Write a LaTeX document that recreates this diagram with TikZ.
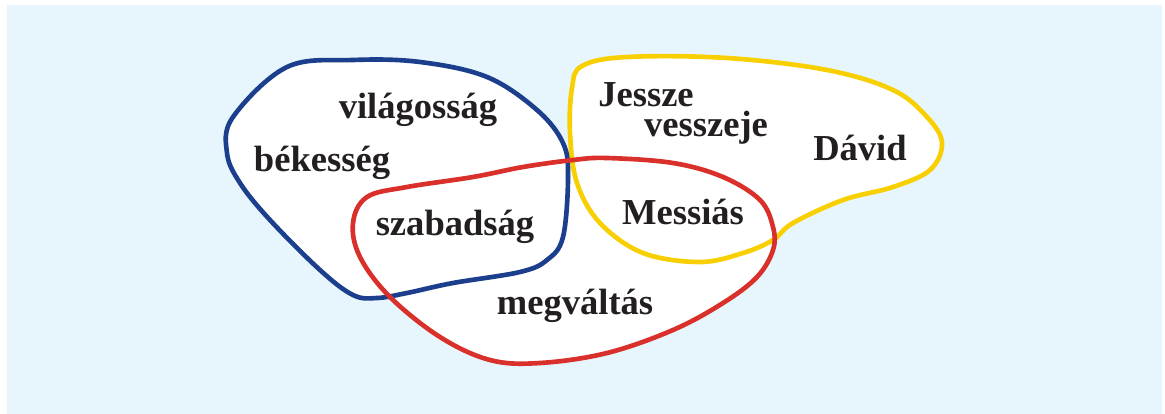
\documentclass[tikz,border=0pt]{standalone}
\usepackage{fontspec}
\setmainfont{Liberation Serif}
\usepackage{tikz}

\definecolor{bgblue}{HTML}{E7F6FD}
\definecolor{setblue}{HTML}{1B3F8C}
\definecolor{setred}{HTML}{D9302B}
\definecolor{setyellow}{HTML}{F8CF00}
\definecolor{wordink}{HTML}{231F20}

\tikzset{
  setline/.style={line width=3.3pt, line join=round},
  word/.style={text=wordink, font=\fontsize{26}{30}\selectfont\bfseries, inner sep=0pt}
}

\begin{document}
\begin{tikzpicture}[x=0.025cm, y=-0.025cm]
        \useasboundingbox (0,0) rectangle (1165,414);
        \fill[bgblue] (7,5) rectangle (1162,414);

        % white inside of the three sets
        \fill[white] plot[smooth cycle, tension=0.6] coordinates {(582,66) (627,57) (727,58) (827,70) (893,90) (927,117) (942,143) (930,170) (893,187) (843,200) (793,223) (773,240) (743,253) (700,262) (643,253) (600,223) (577,183) (570,133) (572,88)};
        \fill[white] plot[smooth cycle, tension=0.6] coordinates {(233,117) (287,67) (353,60) (420,62) (487,77) (537,110) (563,143) (568,177) (563,237) (547,260) (520,272) (453,283) (407,293) (377,298) (353,295) (320,270) (270,220) (240,183) (227,153)};
        \fill[white] plot[smooth cycle, tension=0.6] coordinates {(573,160) (607,158) (673,163) (723,177) (760,200) (773,227) (773,250) (757,277) (723,303) (673,330) (607,353) (540,363) (490,360) (440,337) (390,297) (360,257) (353,223) (367,197) (407,187) (473,177) (523,167)};

        \draw[setline, setyellow] plot[smooth cycle, tension=0.6] coordinates {(582,66) (627,57) (727,58) (827,70) (893,90) (927,117) (942,143) (930,170) (893,187) (843,200) (793,223) (773,240) (743,253) (700,262) (643,253) (600,223) (577,183) (570,133) (572,88)};
        \draw[setline, setblue] plot[smooth cycle, tension=0.6] coordinates {(233,117) (287,67) (353,60) (420,62) (487,77) (537,110) (563,143) (568,177) (563,237) (547,260) (520,272) (453,283) (407,293) (377,298) (353,295) (320,270) (270,220) (240,183) (227,153)};
        \draw[setline, setred] plot[smooth cycle, tension=0.6] coordinates {(573,160) (607,158) (673,163) (723,177) (760,200) (773,227) (773,250) (757,277) (723,303) (673,330) (607,353) (540,363) (490,360) (440,337) (390,297) (360,257) (353,223) (367,197) (407,187) (473,177) (523,167)};

        \node[word] (vilagossag) at (418,110) {világosság};
        \node[word] (bekesseg) at (322,163) {békesség};
        \node[word] (szabadsag) at (455,227) {szabadság};
        \node[word] (megvaltas) at (575,306) {megváltás};
        \node[word] (messias) at (683,212) {Messiás};
        \node[word] (jessze) at (646,95) {Jessze};
        \node[word] (vesszeje) at (706,128) {vesszeje};
        \node[word] (david) at (860,148) {Dávid};
\end{tikzpicture}
\end{document}
